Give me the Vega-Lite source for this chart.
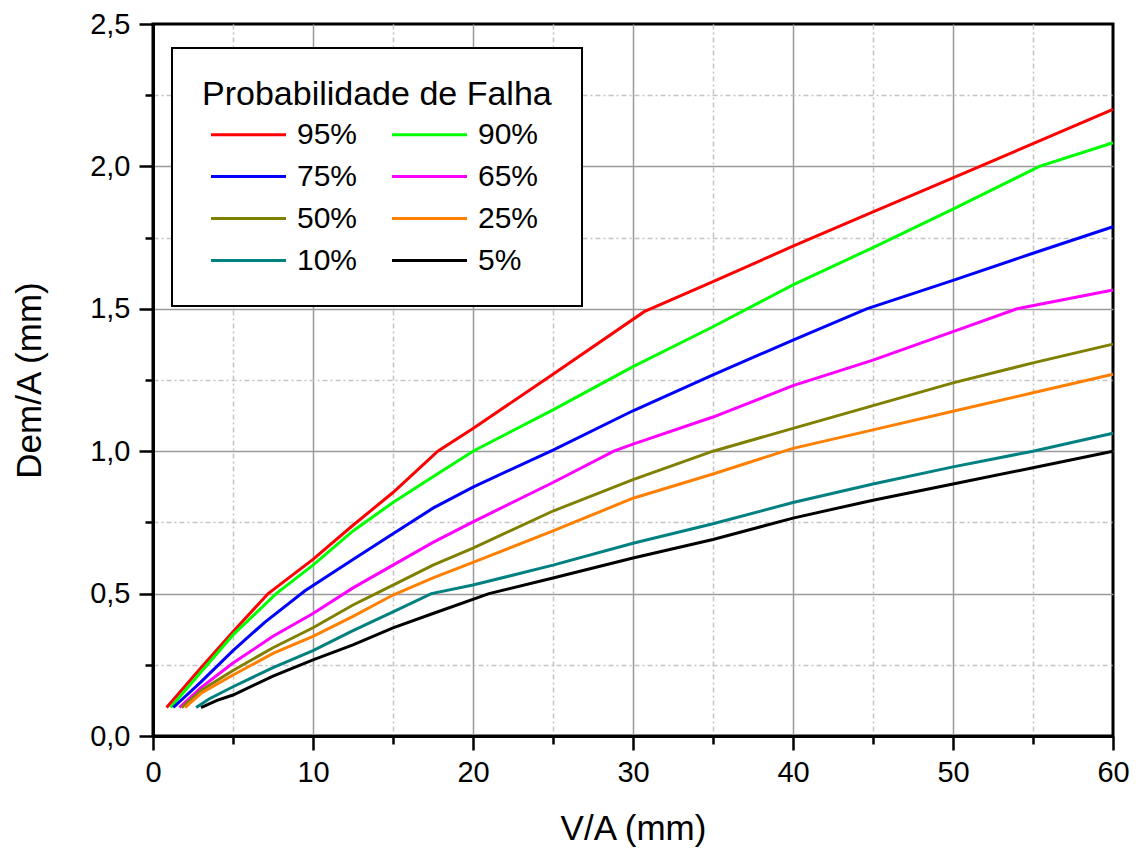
{
  "$schema": "https://vega.github.io/schema/vega-lite/v6.json",
  "width": 960,
  "height": 712,
  "autosize": {"type": "none"},
  "padding": {"left": 153, "top": 24, "right": 23, "bottom": 113},
  "background": "white",
  "config": {
    "font": "Liberation Sans",
    "view": {"stroke": "black", "strokeWidth": 3},
    "legend": {"strokeWidth": 2}
  },
  "data": {
    "values": [
      {"x": 0.85, "y": 0.1, "p": "95%"}, {"x": 3, "y": 0.24, "p": "95%"}, {"x": 5, "y": 0.366, "p": "95%"},
      {"x": 7.2, "y": 0.5, "p": "95%"}, {"x": 10, "y": 0.62, "p": "95%"}, {"x": 12.5, "y": 0.74, "p": "95%"},
      {"x": 15, "y": 0.855, "p": "95%"}, {"x": 17.8, "y": 1.0, "p": "95%"}, {"x": 20, "y": 1.08, "p": "95%"},
      {"x": 25, "y": 1.27, "p": "95%"}, {"x": 30.7, "y": 1.49, "p": "95%"}, {"x": 35, "y": 1.595, "p": "95%"},
      {"x": 40, "y": 1.72, "p": "95%"}, {"x": 45, "y": 1.84, "p": "95%"}, {"x": 50, "y": 1.96, "p": "95%"},
      {"x": 55, "y": 2.08, "p": "95%"}, {"x": 60, "y": 2.2, "p": "95%"},

      {"x": 1.1, "y": 0.1, "p": "90%"}, {"x": 3, "y": 0.225, "p": "90%"}, {"x": 5, "y": 0.355, "p": "90%"},
      {"x": 7.7, "y": 0.5, "p": "90%"}, {"x": 10, "y": 0.6, "p": "90%"}, {"x": 12.5, "y": 0.72, "p": "90%"},
      {"x": 15, "y": 0.82, "p": "90%"}, {"x": 17.5, "y": 0.91, "p": "90%"}, {"x": 20, "y": 1.0, "p": "90%"},
      {"x": 25, "y": 1.145, "p": "90%"}, {"x": 30, "y": 1.297, "p": "90%"}, {"x": 35, "y": 1.437, "p": "90%"},
      {"x": 40, "y": 1.584, "p": "90%"}, {"x": 45, "y": 1.715, "p": "90%"}, {"x": 50, "y": 1.85, "p": "90%"},
      {"x": 55.4, "y": 2.0, "p": "90%"}, {"x": 60, "y": 2.083, "p": "90%"},

      {"x": 1.27, "y": 0.1, "p": "75%"}, {"x": 3, "y": 0.19, "p": "75%"}, {"x": 5, "y": 0.3, "p": "75%"},
      {"x": 7, "y": 0.4, "p": "75%"}, {"x": 9.5, "y": 0.51, "p": "75%"}, {"x": 12.5, "y": 0.62, "p": "75%"},
      {"x": 15, "y": 0.71, "p": "75%"}, {"x": 17.5, "y": 0.8, "p": "75%"}, {"x": 20, "y": 0.874, "p": "75%"},
      {"x": 25, "y": 1.004, "p": "75%"}, {"x": 30, "y": 1.142, "p": "75%"}, {"x": 35, "y": 1.268, "p": "75%"},
      {"x": 40, "y": 1.39, "p": "75%"}, {"x": 44.6, "y": 1.5, "p": "75%"}, {"x": 50, "y": 1.6, "p": "75%"},
      {"x": 55, "y": 1.695, "p": "75%"}, {"x": 60, "y": 1.788, "p": "75%"},

      {"x": 1.65, "y": 0.1, "p": "65%"}, {"x": 3, "y": 0.17, "p": "65%"}, {"x": 5, "y": 0.256, "p": "65%"},
      {"x": 7.5, "y": 0.35, "p": "65%"}, {"x": 10, "y": 0.43, "p": "65%"}, {"x": 12.5, "y": 0.52, "p": "65%"},
      {"x": 15, "y": 0.6, "p": "65%"}, {"x": 17.5, "y": 0.68, "p": "65%"}, {"x": 20, "y": 0.752, "p": "65%"},
      {"x": 25, "y": 0.89, "p": "65%"}, {"x": 28.8, "y": 1.0, "p": "65%"}, {"x": 30, "y": 1.025, "p": "65%"},
      {"x": 35, "y": 1.12, "p": "65%"}, {"x": 40, "y": 1.23, "p": "65%"}, {"x": 45, "y": 1.32, "p": "65%"},
      {"x": 50, "y": 1.42, "p": "65%"}, {"x": 54, "y": 1.5, "p": "65%"}, {"x": 60, "y": 1.566, "p": "65%"},

      {"x": 1.8, "y": 0.1, "p": "50%"}, {"x": 3, "y": 0.16, "p": "50%"}, {"x": 5, "y": 0.23, "p": "50%"},
      {"x": 7.5, "y": 0.31, "p": "50%"}, {"x": 10, "y": 0.38, "p": "50%"}, {"x": 12.5, "y": 0.46, "p": "50%"},
      {"x": 15, "y": 0.53, "p": "50%"}, {"x": 17.5, "y": 0.6, "p": "50%"}, {"x": 20, "y": 0.66, "p": "50%"},
      {"x": 25, "y": 0.79, "p": "50%"}, {"x": 30, "y": 0.9, "p": "50%"}, {"x": 35, "y": 1.0, "p": "50%"},
      {"x": 40, "y": 1.08, "p": "50%"}, {"x": 45, "y": 1.16, "p": "50%"}, {"x": 50, "y": 1.24, "p": "50%"},
      {"x": 55, "y": 1.31, "p": "50%"}, {"x": 60, "y": 1.376, "p": "50%"},

      {"x": 2.0, "y": 0.1, "p": "25%"}, {"x": 3, "y": 0.15, "p": "25%"}, {"x": 5, "y": 0.214, "p": "25%"},
      {"x": 7.5, "y": 0.29, "p": "25%"}, {"x": 10, "y": 0.35, "p": "25%"}, {"x": 12.5, "y": 0.42, "p": "25%"},
      {"x": 15, "y": 0.495, "p": "25%"}, {"x": 17.5, "y": 0.555, "p": "25%"}, {"x": 20, "y": 0.61, "p": "25%"},
      {"x": 25, "y": 0.72, "p": "25%"}, {"x": 30, "y": 0.835, "p": "25%"}, {"x": 35, "y": 0.92, "p": "25%"},
      {"x": 40, "y": 1.01, "p": "25%"}, {"x": 45, "y": 1.075, "p": "25%"}, {"x": 50, "y": 1.14, "p": "25%"},
      {"x": 55, "y": 1.205, "p": "25%"}, {"x": 60, "y": 1.27, "p": "25%"},

      {"x": 2.7, "y": 0.1, "p": "10%"}, {"x": 3.5, "y": 0.13, "p": "10%"}, {"x": 5, "y": 0.173, "p": "10%"},
      {"x": 7.5, "y": 0.24, "p": "10%"}, {"x": 10, "y": 0.3, "p": "10%"}, {"x": 12.5, "y": 0.37, "p": "10%"},
      {"x": 15, "y": 0.436, "p": "10%"}, {"x": 17.4, "y": 0.5, "p": "10%"}, {"x": 20, "y": 0.53, "p": "10%"},
      {"x": 25, "y": 0.6, "p": "10%"}, {"x": 30, "y": 0.677, "p": "10%"}, {"x": 35, "y": 0.745, "p": "10%"},
      {"x": 40, "y": 0.82, "p": "10%"}, {"x": 45, "y": 0.885, "p": "10%"}, {"x": 50, "y": 0.945, "p": "10%"},
      {"x": 55, "y": 1.0, "p": "10%"}, {"x": 60, "y": 1.063, "p": "10%"},

      {"x": 3.0, "y": 0.1, "p": "5%"}, {"x": 4, "y": 0.125, "p": "5%"}, {"x": 5, "y": 0.144, "p": "5%"},
      {"x": 7.5, "y": 0.21, "p": "5%"}, {"x": 10, "y": 0.267, "p": "5%"}, {"x": 12.5, "y": 0.32, "p": "5%"},
      {"x": 15, "y": 0.38, "p": "5%"}, {"x": 17.5, "y": 0.43, "p": "5%"}, {"x": 21, "y": 0.5, "p": "5%"},
      {"x": 25, "y": 0.555, "p": "5%"}, {"x": 30, "y": 0.625, "p": "5%"}, {"x": 35, "y": 0.69, "p": "5%"},
      {"x": 40, "y": 0.765, "p": "5%"}, {"x": 45, "y": 0.828, "p": "5%"}, {"x": 50, "y": 0.885, "p": "5%"},
      {"x": 55, "y": 0.942, "p": "5%"}, {"x": 60, "y": 1.0, "p": "5%"}
    ]
  },
  "mark": {"type": "line", "strokeWidth": 3},
  "encoding": {
    "x": {
      "field": "x",
      "type": "quantitative",
      "scale": {"domain": [0, 60], "nice": false, "zero": false},
      "axis": {
        "values": [0, 5, 10, 15, 20, 25, 30, 35, 40, 45, 50, 55, 60],
        "title": "V/A (mm)",
        "titleFontSize": 35,
        "titleFontWeight": "normal",
        "titleColor": "black",
        "titlePadding": 24,
        "labelExpr": "datum.value % 10 === 0 ? datum.label : ''",
        "labelFlush": false,
        "labelOverlap": false,
        "labelFontSize": 29,
        "labelColor": "black",
        "labelPadding": 8,
        "tickSize": {"condition": {"test": "datum.value % 10 !== 0", "value": 8}, "value": 14},
        "tickWidth": 2.5,
        "tickColor": "black",
        "domainColor": "black",
        "domainWidth": 3,
        "grid": true,
        "gridWidth": 1.5,
        "gridColor": {"condition": {"test": "datum.value % 10 !== 0", "value": "#c4c4c4"}, "value": "#9a9a9a"},
        "gridDash": {"condition": {"test": "datum.value % 10 !== 0", "value": [5, 3, 2, 3]}, "value": []},
        "gridOpacity": {"condition": {"test": "datum.value === 0 || datum.value === 60", "value": 0}, "value": 1}
      }
    },
    "y": {
      "field": "y",
      "type": "quantitative",
      "scale": {"domain": [0, 2.5], "nice": false},
      "axis": {
        "values": [0, 0.25, 0.5, 0.75, 1, 1.25, 1.5, 1.75, 2, 2.25, 2.5],
        "title": "Dem/A (mm)",
        "titleFontSize": 35,
        "titleFontWeight": "normal",
        "titleColor": "black",
        "titlePadding": 42,
        "labelExpr": "round(datum.value * 4) % 2 === 0 ? replace(format(datum.value, '.1f'), '.', ',') : ''",
        "labelFlush": false,
        "labelOverlap": false,
        "labelFontSize": 29,
        "labelColor": "black",
        "labelPadding": 9,
        "tickSize": {"condition": {"test": "round(datum.value * 4) % 2 === 1", "value": 8}, "value": 14},
        "tickWidth": 2.5,
        "tickColor": "black",
        "domainColor": "black",
        "domainWidth": 3,
        "grid": true,
        "gridWidth": 1.5,
        "gridColor": {"condition": {"test": "round(datum.value * 4) % 2 === 1", "value": "#c4c4c4"}, "value": "#9a9a9a"},
        "gridDash": {"condition": {"test": "round(datum.value * 4) % 2 === 1", "value": [5, 3, 2, 3]}, "value": []},
        "gridOpacity": {"condition": {"test": "datum.value === 0 || datum.value === 2.5", "value": 0}, "value": 1}
      }
    },
    "color": {
      "field": "p",
      "type": "nominal",
      "scale": {
        "domain": ["95%", "90%", "75%", "65%", "50%", "25%", "10%", "5%"],
        "range": ["#FF0000", "#00FF00", "#0000FF", "#FF00FF", "#808000", "#FF8000", "#008080", "#000000"]
      },
      "legend": {
        "orient": "none",
        "direction": "horizontal",
        "legendX": 19,
        "legendY": 24,
        "title": "Probabilidade de Falha",
        "titleLimit": 800,
        "titleFontSize": 34,
        "titleFontWeight": "normal",
        "titleColor": "black",
        "titlePadding": 6,
        "labelFontSize": 30,
        "labelColor": "black",
        "columns": 2,
        "columnPadding": 25,
        "rowPadding": 10,
        "symbolType": "M-2.5,0H2.5",
        "symbolSize": 900,
        "symbolStrokeWidth": 3,
        "symbolOffset": 30,
        "labelOffset": 32,
        "padding": 30,
        "strokeColor": "black",
        "fillColor": "white"
      }
    }
  }
}
